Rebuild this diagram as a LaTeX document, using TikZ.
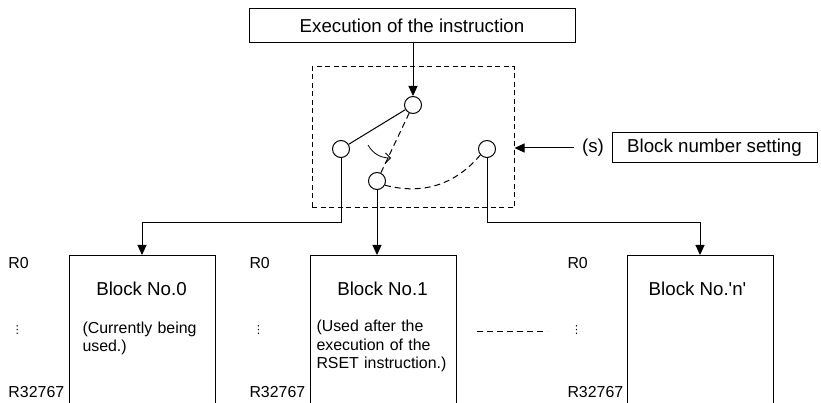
\documentclass[tikz,border=0pt]{standalone}
\usepackage{fontspec}
\setmainfont{Liberation Sans}
\newfontfamily\dejavu{DejaVu Sans}
\usetikzlibrary{arrows.meta}
\begin{document}
\begin{tikzpicture}[x=1pt,y=-1pt,
  line width=1pt,
  big/.style={font=\fontsize{18.7}{22}\selectfont},
  small/.style={font=\fontsize{15.9}{18.6}\selectfont},
  boxframe/.style={draw, rectangle, inner sep=0pt},
  contact/.style={draw, circle, minimum size=17pt, inner sep=0pt},
  blockspace/.style={rectangle, minimum width=145pt, minimum height=148pt, inner sep=0pt},
  arr/.style={-{Triangle[length=10pt,width=9pt]}},
  regtxt/.style={small, anchor=base west, inner sep=0pt},
  desc/.style={small, anchor=north west, align=left, inner sep=0pt, text width=140pt}
]
\useasboundingbox (0,0) rectangle (821,403);

% top box
\node[boxframe, big, minimum width=326pt, minimum height=34pt] (exec) at (412,26) {Execution of the instruction};

% switch frame
\node[draw, dash pattern=on 5pt off 3.5pt, rectangle, minimum width=202pt, minimum height=141pt, inner sep=0pt] (frame) at (413,137.5) {};

% contacts
\node[contact] (ct) at (413,105) {};
\node[contact] (c0) at (341,149) {};
\node[contact] (c1) at (377,181) {};
\node[contact] (cn) at (487,149) {};

\draw[arr] (exec.south -| ct) -- (ct.north);
\draw (c0) -- (ct);
\draw[dash pattern=on 6pt off 4pt] (ct) -- (c1);
\draw[dash pattern=on 6pt off 4pt] (c1.-28) to[bend right=32] (cn.222);
\coordinate (ca) at (368,145);
\coordinate (cb) at (391,158);
\draw[line width=0.8pt, -{Straight Barb[length=5pt,width=10pt]}] (ca) to[out=-60,in=180] (cb);

% block number setting
\node[boxframe, big, minimum width=205pt, minimum height=30pt] (bns) at (714.5,148) {Block number setting};
\node[big, inner sep=0pt] (s) at (593,148) {(s)};
\draw[arr] (s.west) ++(-8,0) coordinate (sarr) -- (frame.east |- sarr);

% blocks
\node[blockspace, anchor=north west] (b0) at (69,255) {};
\node[blockspace, anchor=north west] (b1) at (310,255) {};
\node[blockspace, anchor=north west] (bn) at (627,255) {};
\foreach \b in {b0,b1,bn}{
  \draw (\b.south west) -- (\b.north west) -- (\b.north east) -- (\b.south east);
}

\node[big, anchor=base] (t0) at (141.5,295.5) {Block No.0};
\node[big, anchor=base] (t1) at (382.5,295.5) {Block No.1};
\node[big, anchor=base] (tn) at (697.5,295.5) {Block No.\textquotesingle n\textquotesingle};

\node[desc] (d0) at (82,321) {(Currently being\\used.)};
\node[desc] (d1) at (316,319.5) {(Used after the\\execution of the\\RSET instruction.)};

% connectors to blocks
\coordinate (j0) at (341,223);
\coordinate (jn) at (487,223);
\draw[arr] (c0.south) -- (j0) -| (b0.north);
\draw[arr] (c1.south) -- (c1.south |- b1.north);
\draw[arr] (cn.south) -- (jn) -| (bn.north);

% register labels
\foreach \x/\n in {8/a,249/b,567/c}{
  \node[regtxt] (r0\n) at (\x,269) {R0};
  \node[regtxt] (rl\n) at (\x,397) {R32767};
  \node[font=\dejavu\fontsize{11}{12}\selectfont, inner sep=0pt] (dots\n) at (\x+9.5,330) {⋮};
}

% dashes between blocks
\coordinate (da) at (477,331);
\coordinate (db) at (547,331);
\draw[dash pattern=on 6pt off 4pt] (da) -- (db);
\end{tikzpicture}
\end{document}
